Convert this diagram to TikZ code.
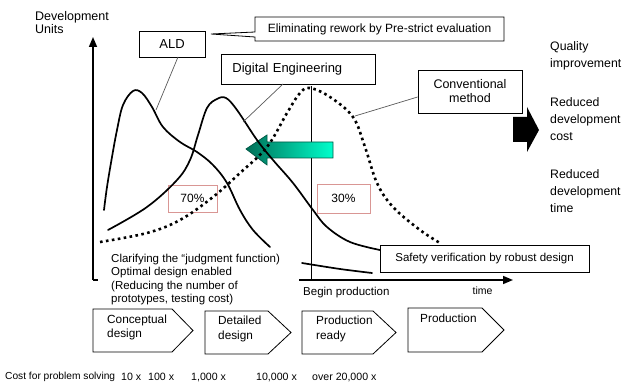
\documentclass[tikz,border=0pt]{standalone}
\usepackage{fontspec}
\setmainfont{Liberation Sans}
\usetikzlibrary{arrows.meta}
\definecolor{pctred}{RGB}{217,150,148}
\definecolor{tealdark}{RGB}{0,112,88}
\definecolor{tealbright}{RGB}{0,255,204}
\definecolor{tealedge}{RGB}{0,90,70}
\begin{document}
\begin{tikzpicture}[x=1pt,y=-1pt,
  txt/.style={inner sep=0pt, font=\fontsize{11.5}{13.5}\selectfont, align=left},
  sidetxt/.style={inner sep=0pt, font=\fontsize{12.3}{17}\selectfont, align=left},
  costtxt/.style={inner sep=0pt, font=\fontsize{10.6}{12}\selectfont, anchor=west},
  box/.style={draw=black, line width=0.8pt, fill=white, inner sep=0pt, font=\fontsize{12.5}{14}\selectfont},
  pct/.style={draw=pctred, line width=0.8pt, fill=white, inner sep=0pt, font=\fontsize{12}{14}\selectfont},
  curve/.style={line width=1.7pt, line cap=round, smooth, tension=0.6},
  dotcurve/.style={line width=2.6pt, dash pattern=on 2.6pt off 3.4pt, smooth, tension=0.6},
  lead/.style={draw=gray!70!black, line width=0.7pt},
  chev/.style={draw=black, line width=0.8pt, fill=white},
  axisarrow/.style={line width=1.6pt, -{Triangle[length=10pt,width=8pt]}}
]
\useasboundingbox (0,0) rectangle (630,385);

% axis label
\node[txt, anchor=west, font=\fontsize{12.5}{13.5}\selectfont] (ylab) at (35,22.5) {Development\\Units};

% axes
\coordinate (orig) at (93,280);
\coordinate (ytop) at (93,37);
\coordinate (xend) at (513,280);
\draw[axisarrow] (orig) -- (ytop);
\draw[axisarrow] (orig) -- (xend);

% percentage boxes
\node[pct, minimum width=49pt, minimum height=27pt] (p70) at (192.5,198.5) {70\%};
\node[pct, minimum width=53pt, minimum height=29pt] (p30) at (343.5,198.5) {30\%};

% begin production line
\coordinate (bptop) at (311,86);
\coordinate (bpbot) at (311,280);
\draw[line width=0.8pt] (bptop) -- (bpbot);

% green arrow
\shade[left color=tealdark, right color=tealbright, draw=tealedge, line width=0.7pt]
  (246,149) -- (267,135) -- (267,142) -- (333,142) -- (333,158) -- (267,158) -- (267,165) -- cycle;

% curves
\draw[curve] plot coordinates {(104,210) (107,187) (112,157) (117,130) (123,105) (133,91) (142,93) (152,107) (163,127) (180,142) (197,152) (213,165) (227,183) (240,210) (253,230) (270,247)};
\draw[curve] plot coordinates {(108,230) (147,207) (177,180) (190,160) (198,135) (207,108) (217,99) (226,98) (237,110) (257,140) (273,160) (293,183) (313,210) (327,227) (350,242) (380,250)};
\draw[dotcurve] plot coordinates {(100,242) (147,233) (180,220) (213,197) (240,173) (267,147) (287,113) (300,93) (310,88) (330,97) (353,117) (365,147) (377,183) (393,207) (420,230) (440,243)};

% white area under text
\fill[white] (98,253) rectangle (299,307);

\node[txt, anchor=north west, font=\fontsize{11.5}{13.4}\selectfont] (clar) at (111,254) {Clarifying the “judgment function)\\Optimal design enabled\\(Reducing the number of\\prototypes, testing cost)};

\draw[line width=1.7pt, line cap=round] plot[smooth] coordinates {(302,263) (340,269) (372,273)};

% boxes
\node[box, minimum width=66pt, minimum height=26pt, font=\fontsize{13}{15}\selectfont] (ald) at (172,44) {ALD};
\node[box, anchor=north west, align=left, text width=132pt, inner xsep=11pt, minimum height=30pt, font=\fontsize{13}{15}\selectfont] (de) at (221,54) {Digital Engineering};
\node[box, minimum width=104pt, minimum height=43pt, align=center, font=\fontsize{12.5}{14}\selectfont] (conv) at (470,91.5) {Conventional\\method};
\node[box, minimum width=209pt, minimum height=27pt, font=\fontsize{11.5}{13}\selectfont] (safe) at (484.5,258.5) {Safety verification by robust design};

% callout
\draw[line width=0.8pt, fill=white] (504,17) -- (255,17) -- (255,32) -- (211,34) -- (255,37) -- (255,41) -- (504,41) -- cycle;
\node[inner sep=0pt, font=\fontsize{12}{14}\selectfont] (elim) at (379.5,29) {Eliminating rework by Pre-strict evaluation};

% leads
\coordinate (aldpt) at (156,110);
\coordinate (dept) at (243,122);
\coordinate (convpt) at (355,116);
\draw[lead] (178,57) -- (aldpt);
\draw[lead] (283,84) -- (dept);
\draw[lead] (conv.west |- 0,97) -- (convpt);

% black arrow
\fill[black] (513,117) -- (527,117) -- (527,107) -- (539,130) -- (527,152) -- (527,142) -- (513,142) -- cycle;

% right texts
\node[sidetxt, anchor=north west] (qual) at (550,41) {Quality\\improvement};
\node[sidetxt, anchor=north west] (rcost) at (550,97) {Reduced\\development\\cost};
\node[sidetxt, anchor=north west] (rtime) at (550,169) {Reduced\\development\\time};

% axis texts
\node[inner sep=0pt, font=\fontsize{10.5}{12}\selectfont] (time) at (482.5,291) {time};
\node[inner sep=0pt, anchor=west, font=\fontsize{11.5}{13}\selectfont] (bp) at (303,293) {Begin production};

% chevrons
\draw[chev] (93,309) -- (172,309) -- (193,330.5) -- (172,352) -- (93,352) -- cycle;
\draw[chev] (205,311) -- (268,311) -- (291,332.5) -- (268,354) -- (205,354) -- cycle;
\draw[chev] (302,311) -- (373,311) -- (396,332.5) -- (373,354) -- (302,354) -- cycle;
\draw[chev] (408,308) -- (482,308) -- (504,330) -- (482,352) -- (408,352) -- cycle;
\node[txt, anchor=north west, font=\fontsize{11.8}{13.5}\selectfont] (c1) at (107,315) {Conceptual\\design};
\node[txt, anchor=north west, font=\fontsize{11.8}{15}\selectfont] (c2) at (218,316) {Detailed\\design};
\node[txt, anchor=north west, font=\fontsize{11.8}{15}\selectfont] (c3) at (316,316) {Production\\ready};
\node[txt, anchor=north west, font=\fontsize{11.8}{15}\selectfont] (c4) at (420,314) {Production};

% cost row
\node[costtxt, font=\fontsize{10.2}{12}\selectfont] (cost) at (5,377) {Cost for problem solving};
\node[costtxt] (k1) at (121,377) {10 x};
\node[costtxt] (k2) at (148,377) {100 x};
\node[costtxt] (k3) at (191,377) {1,000 x};
\node[costtxt] (k4) at (256,377) {10,000 x};
\node[costtxt] (k5) at (312,377) {over 20,000 x};
\end{tikzpicture}
\end{document}
